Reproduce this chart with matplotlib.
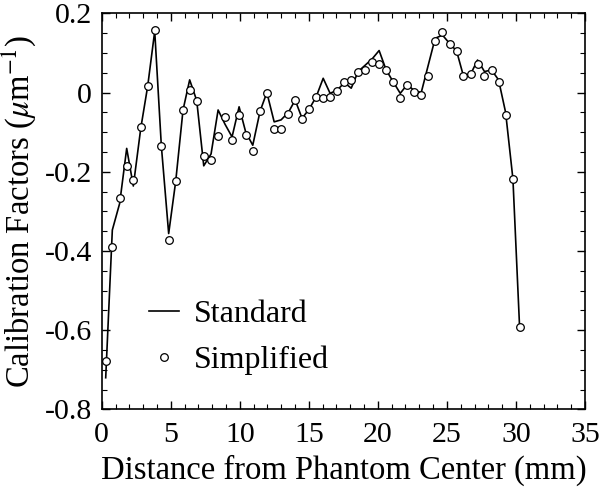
import numpy as np
import matplotlib
matplotlib.use('Agg')
import matplotlib.pyplot as plt
from matplotlib.ticker import MultipleLocator, FixedLocator, FixedFormatter

plt.rcParams['font.family'] = ['Liberation Serif', 'DejaVu Serif']
plt.rcParams['mathtext.fontset'] = 'stix'
plt.rcParams['axes.unicode_minus'] = False

# distance from phantom center (mm)
dist = [0.29, 0.77, 1.30, 1.81, 2.29, 2.83, 3.33, 3.84, 4.32, 4.85,
        5.36, 5.89, 6.37, 6.88, 7.39, 7.92, 8.43, 8.93, 9.44, 9.95,
        10.43, 10.94, 11.47, 11.96, 12.49, 12.99, 13.52, 14.01, 14.51, 15.02,
        15.53, 16.04, 16.54, 17.05, 17.58, 18.07, 18.57, 19.08, 19.61, 20.09,
        20.60, 21.11, 21.62, 22.12, 22.63, 23.14, 23.64, 24.15, 24.68, 25.19,
        25.70, 26.18, 26.71, 27.22, 27.72, 28.23, 28.74, 29.25, 29.78, 30.26]

# calibration factors, standard method (line)
standard = [-0.720, -0.347, -0.280, -0.141, -0.236, -0.090, 0.016, 0.155, -0.135, -0.356,
            -0.224, -0.044, 0.032, -0.020, -0.185, -0.155, -0.044, -0.080, -0.112, -0.036,
            -0.100, -0.133, -0.047, 0.000, -0.074, -0.069, -0.050, -0.019, -0.065, -0.042,
            -0.011, 0.036, -0.002, 0.006, 0.025, 0.011, 0.053, 0.069, 0.086, 0.106,
            0.057, 0.027, -0.002, 0.020, 0.005, 0.000, 0.068, 0.137, 0.145, 0.124,
            0.105, 0.044, 0.046, 0.082, 0.053, 0.057, 0.032, -0.050, -0.218, -0.590]

# calibration factors, simplified method (circles)
simplified = [-0.678, -0.389, -0.265, -0.185, -0.222, -0.086, 0.016, 0.157, -0.135, -0.372,
              -0.224, -0.044, 0.006, -0.021, -0.159, -0.171, -0.109, -0.061, -0.119, -0.056,
              -0.108, -0.147, -0.047, 0.000, -0.091, -0.093, -0.054, -0.020, -0.066, -0.042,
              -0.011, -0.013, -0.010, 0.005, 0.026, 0.031, 0.052, 0.057, 0.077, 0.071,
              0.058, 0.027, -0.013, 0.019, 0.001, -0.005, 0.042, 0.131, 0.152, 0.123,
              0.105, 0.043, 0.048, 0.072, 0.043, 0.056, 0.026, -0.057, -0.218, -0.591]

yticks = [0.2, 0.0, -0.2, -0.4, -0.6, -0.8]
ylabels = ['0.2', '0', '-0.2', '-0.4', '-0.6', '-0.8']

fig = plt.figure(figsize=(6, 4.88), dpi=100)
ax = fig.add_axes([0.1695, 0.161, 0.8055, 0.8117])

ax.plot(dist, standard, '-', color='black', lw=1.2, label='Standard')
ax.plot(dist, simplified, 'o', ms=5.5, mfc='white', mec='black', mew=0.9,
        label='Simplified')

ax.set_xlim(0, 35)
ax.set_ylim(-0.8, 0.2)
ax.xaxis.set_major_locator(MultipleLocator(5))
ax.xaxis.set_minor_locator(MultipleLocator(1))
ax.yaxis.set_major_locator(FixedLocator(yticks))
ax.yaxis.set_major_formatter(FixedFormatter(ylabels))
ax.yaxis.set_minor_locator(MultipleLocator(0.05))
ax.tick_params(which='both', direction='in', top=True, right=True, labelsize=21.5, pad=7)
ax.tick_params(axis='x', pad=9)
ax.tick_params(which='major', length=6, width=1)
ax.tick_params(which='minor', length=3.5, width=0.8)
for s in ax.spines.values():
    s.set_linewidth(1.2)

ax.set_xlabel('Distance from Phantom Center (mm)', fontsize=23.5, labelpad=5)
ax.set_ylabel(r'Calibration Factors ($\mu$m$^{-1}$)', fontsize=23.5, labelpad=5)

ax.legend(loc='lower left', bbox_to_anchor=(0.071, 0.055), frameon=False,
          fontsize=23, handlelength=0.95, handletextpad=0.45, labelspacing=0.5,
          borderaxespad=0)

fig.savefig('out.png', dpi=100)
